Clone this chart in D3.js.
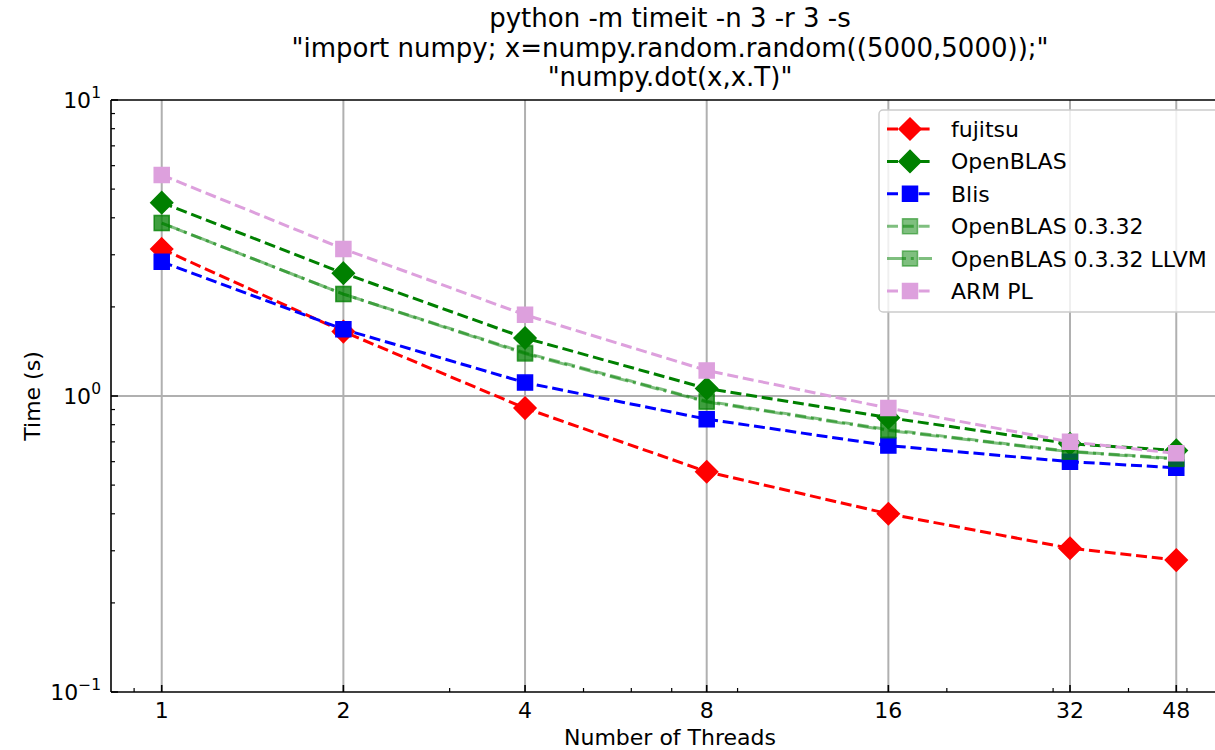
<!DOCTYPE html>
<html lang="en">
<head>
<meta charset="UTF-8">
<title>numpy.dot timing</title>
<script src="https://d3js.org/d3.v7.min.js"></script>
<style>
  body { margin: 0; background: #fff; }
  text { font-family: "DejaVu Sans", sans-serif; fill: #000; }
</style>
</head>
<body>
<div id="chart"></div>
<script>
// data
var threads = [1, 2, 4, 8, 16, 32, 48];
var fujitsu = [3.14, 1.65, 0.91, 0.555, 0.40, 0.306, 0.279];
var openblas = [4.50, 2.60, 1.57, 1.06, 0.845, 0.69, 0.655];
var blis = [2.84, 1.68, 1.11, 0.835, 0.68, 0.60, 0.572];
var openblas0332 = [3.84, 2.21, 1.40, 0.96, 0.77, 0.65, 0.615];
var openblas0332llvm = [3.84, 2.21, 1.39, 0.955, 0.765, 0.648, 0.612];
var armpl = [5.58, 3.14, 1.88, 1.22, 0.91, 0.70, 0.64];
var xTicks = [1, 2, 4, 8, 16, 32, 48];
var xMinor = [0.9, 3, 5, 6, 7, 9, 20, 30, 40, 50];
var yMinor = [];
[0.1, 1].forEach(function(b){ for (var i = 2; i < 10; i++) yMinor.push(b * i); });

var series = [
  {name: "fujitsu", values: fujitsu, color: "#ff0000", alpha: 1, marker: "D", dash: "11,4.8"},
  {name: "OpenBLAS", values: openblas, color: "#008000", alpha: 1, marker: "D", dash: "11,4.8"},
  {name: "Blis", values: blis, color: "#0000ff", alpha: 1, marker: "s", dash: "11,4.8"},
  {name: "OpenBLAS 0.3.32", values: openblas0332, color: "#008000", alpha: 0.5, marker: "s", dash: "11,4.8"},
  {name: "OpenBLAS 0.3.32 LLVM", values: openblas0332llvm, color: "#008000", alpha: 0.5, marker: "s", dash: "19,4.8,3,4.8"},
  {name: "ARM PL", values: armpl, color: "#dda0dd", alpha: 1, marker: "s", dash: "11,4.8"}
];

var width = 1215, height = 750;
var mLeft = 111, mTop = 100, mBottom = 692, mRight = 1227;

// matplotlib-like 5% margins in log space
var lmin = Math.log2(d3.min(threads)), lmax = Math.log2(d3.max(threads));
var pad = (lmax - lmin) * 0.05;
var x = d3.scaleLog().base(2)
  .domain([Math.pow(2, lmin - pad), Math.pow(2, lmax + pad)])
  .range([mLeft, mRight]);
var y = d3.scaleLog().domain([0.1, 10]).range([mBottom, mTop]);

var svg = d3.select("#chart").append("svg")
  .attr("width", width).attr("height", height);

// grid
var grid = svg.append("g");
grid.selectAll("line.gx").data(xTicks).enter().append("line")
  .attr("x1", d => x(d)).attr("x2", d => x(d))
  .attr("y1", mTop).attr("y2", mBottom)
  .attr("stroke", "#b0b0b0").attr("stroke-width", 2);
grid.selectAll("line.gy").data([1]).enter().append("line")
  .attr("x1", mLeft).attr("x2", mRight)
  .attr("y1", d => y(d)).attr("y2", d => y(d))
  .attr("stroke", "#b0b0b0").attr("stroke-width", 2);

// series
var line = d3.line().x(d => x(d[0])).y(d => y(d[1]));
function markerPath(type) {
  if (type === "D") return "M0,-11L11,0L0,11L-11,0Z";
  return "M-7.5,-7.5H7.5V7.5H-7.5Z";
}
series.forEach(function(s) {
  var pts = threads.map((t, i) => [t, s.values[i]]);
  var g = svg.append("g");
  g.append("path").datum(pts).attr("d", line)
    .attr("fill", "none").attr("stroke", s.color)
    .attr("stroke-opacity", s.alpha)
    .attr("stroke-width", 3).attr("stroke-dasharray", s.dash);
  g.selectAll("path.m").data(pts).enter().append("path")
    .attr("transform", d => "translate(" + x(d[0]) + "," + y(d[1]) + ")")
    .attr("d", markerPath(s.marker))
    .attr("fill", s.color).attr("fill-opacity", s.alpha)
    .attr("stroke", s.color).attr("stroke-opacity", s.alpha)
    .attr("stroke-width", 1.5);
});

// spines
svg.append("line").attr("x1", mLeft).attr("x2", width).attr("y1", mTop).attr("y2", mTop)
  .attr("stroke", "#000").attr("stroke-width", 1.6);
svg.append("line").attr("x1", mLeft).attr("x2", width).attr("y1", mBottom).attr("y2", mBottom)
  .attr("stroke", "#000").attr("stroke-width", 1.6);
svg.append("line").attr("x1", mLeft).attr("x2", mLeft).attr("y1", mTop).attr("y2", mBottom)
  .attr("stroke", "#000").attr("stroke-width", 1.6);

// ticks (inward)
var ax = svg.append("g");
ax.selectAll("line.xt").data(xTicks).enter().append("line")
  .attr("x1", d => x(d)).attr("x2", d => x(d)).attr("y1", mBottom).attr("y2", mBottom - 7)
  .attr("stroke", "#000").attr("stroke-width", 1.6);
ax.selectAll("line.xm").data(xMinor).enter().append("line")
  .attr("x1", d => x(d)).attr("x2", d => x(d)).attr("y1", mBottom).attr("y2", mBottom - 4)
  .attr("stroke", "#000").attr("stroke-width", 1.2);
ax.selectAll("text.xl").data(xTicks).enter().append("text")
  .attr("x", d => x(d)).attr("y", mBottom + 26)
  .attr("text-anchor", "middle").attr("font-size", 22).text(d => d);
ax.selectAll("line.yt").data([0.1, 1, 10]).enter().append("line")
  .attr("x1", mLeft).attr("x2", mLeft + 7).attr("y1", d => y(d)).attr("y2", d => y(d))
  .attr("stroke", "#000").attr("stroke-width", 1.6);
ax.selectAll("line.ym").data(yMinor).enter().append("line")
  .attr("x1", mLeft).attr("x2", mLeft + 4).attr("y1", d => y(d)).attr("y2", d => y(d))
  .attr("stroke", "#000").attr("stroke-width", 1.2);
var yl = ax.selectAll("text.yl").data([[0.1, "\u22121"], [1, "0"], [10, "1"]]).enter().append("text")
  .attr("x", mLeft - 10).attr("y", d => y(d[0]) + 8)
  .attr("text-anchor", "end").attr("font-size", 22);
yl.append("tspan").text("10");
yl.append("tspan").attr("font-size", 15.5).attr("dy", -10).text(d => d[1]);

// axis labels
svg.append("text").attr("x", 670).attr("y", 745).attr("text-anchor", "middle")
  .attr("font-size", 22).text("Number of Threads");
svg.append("text").attr("transform", "translate(40,396) rotate(-90)")
  .attr("text-anchor", "middle").attr("font-size", 22).text("Time (s)");

// title
var titleLines = ["python -m timeit -n 3 -r 3 -s",
  "\"import numpy; x=numpy.random.random((5000,5000));\"",
  "\"numpy.dot(x,x.T)\""];
svg.selectAll("text.title").data(titleLines).enter().append("text")
  .attr("x", 670).attr("y", (d, i) => 27 + i * 29.5)
  .attr("text-anchor", "middle").attr("font-size", 26).text(d => d);

// legend
var lg = svg.append("g");
lg.append("rect").attr("x", 879).attr("y", 110).attr("width", 360).attr("height", 202)
  .attr("rx", 4).attr("fill", "#fff").attr("fill-opacity", 0.8)
  .attr("stroke", "#cccccc").attr("stroke-width", 1.5);
series.forEach(function(s, i) {
  var cy = 129 + i * 32.4;
  lg.append("line").attr("x1", 887).attr("x2", 932).attr("y1", cy).attr("y2", cy)
    .attr("stroke", s.color).attr("stroke-opacity", s.alpha)
    .attr("stroke-width", 3).attr("stroke-dasharray", s.dash);
  lg.append("path").attr("transform", "translate(910," + cy + ")")
    .attr("d", markerPath(s.marker))
    .attr("fill", s.color).attr("fill-opacity", s.alpha)
    .attr("stroke", s.color).attr("stroke-opacity", s.alpha)
    .attr("stroke-width", 1.5);
  lg.append("text").attr("x", 951).attr("y", cy + 8).attr("font-size", 22).text(s.name);
});
</script>
</body>
</html>
